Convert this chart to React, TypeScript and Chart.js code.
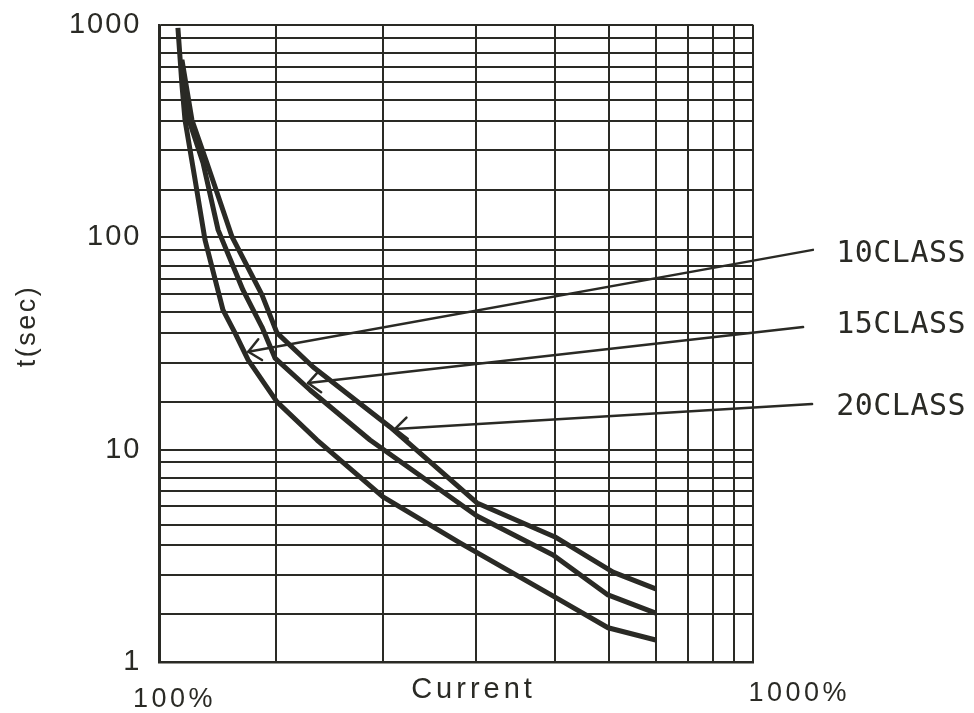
import { useEffect, useRef } from 'react';
import { Chart, registerables } from 'chart.js';

Chart.register(...registerables);

const INK = '#2a2a25';

// Current (%) gridlines as drawn on the reference (log scale 100%..1000%)
const currentGrid = [100, 156.9, 238.2, 341.1, 463.5, 571.4, 685, 777.1, 854.5, 929, 1000];
const currentLabels = ['100%', '1000%'];

// t (sec) gridlines as drawn on the reference (log scale 1..1000)
const timeGrid = [
  1, 1.675, 2.57, 3.55, 4.43, 5.41, 6.37, 7.36, 8.72,
  10, 16.75, 25.7, 35.5, 44.3, 54.1, 63.7, 73.6, 87.2,
  100, 167.5, 257, 355, 443, 541, 637, 736, 872,
  1000,
];
const timeLabels = [1, 10, 100, 1000];

// Trip curves
const class10X = [107.4, 109.1, 110.4, 114.8, 119.3, 127.9, 134.0, 141.0, 157.7, 184.2, 237.9, 320.6, 463.5, 569.2, 685];
const class10Y = [969, 522, 357, 186.4, 97.2, 45.5, 35.5, 26.5, 16.8, 11.1, 5.99, 3.64, 2.02, 1.45, 1.27];

const class15X = [108.7, 112.1, 118.4, 125.5, 138.2, 148.8, 156.5, 179.3, 226.2, 342.5, 460.0, 569.2, 685];
const class15Y = [685, 357, 224, 108.4, 56.5, 37.8, 27.0, 19.1, 11.1, 4.87, 3.19, 2.07, 1.70];

const class20X = [109.1, 113.4, 120.2, 132.5, 148.8, 157.7, 181.4, 244.5, 342.5, 463.5, 580.4, 685];
const class20Y = [685, 357, 224, 100.4, 53.6, 35.5, 24.5, 12.8, 5.61, 3.88, 2.65, 2.21];

// Callouts
const classLabels = ['10CLASS', '15CLASS', '20CLASS'];
const arrowTipX = [141.1, 177.9, 249.3];
const arrowTipY = [28.9, 20.6, 12.52];
const arrowTailX = [1260, 1213, 1256];
const arrowTailY = [87.3, 37.8, 16.4];
const labelX = 1379;
const labelY = [83.5, 38.7, 15.9];

const xTitle = 'Current';
const yTitle = 't(sec)';

function pts(xs: number[], ys: number[]) {
  return xs.map((x, i) => ({ x, y: ys[i] }));
}

const overlayPlugin = {
  id: 'overlay',
  beforeDraw(chart: any) {
    chart.ctx.letterSpacing = '2px';
  },
  afterDraw(chart: any) {
    const { ctx, chartArea } = chart;
    const xs = chart.scales.x;
    const ys = chart.scales.y;
    ctx.save();
    ctx.strokeStyle = INK;
    ctx.fillStyle = INK;
    ctx.lineCap = 'round';
    ctx.lineJoin = 'round';

    // callout arrows + labels
    for (let i = 0; i < classLabels.length; i++) {
      const tx = xs.getPixelForValue(arrowTipX[i]);
      const ty = ys.getPixelForValue(arrowTipY[i]);
      const ex = xs.getPixelForValue(arrowTailX[i]);
      const ey = ys.getPixelForValue(arrowTailY[i]);
      ctx.lineWidth = 2.5;
      ctx.beginPath();
      ctx.moveTo(ex, ey);
      ctx.lineTo(tx, ty);
      ctx.stroke();
      const ang = Math.atan2(ey - ty, ex - tx);
      const len = 16;
      const spread = 0.72;
      ctx.beginPath();
      ctx.moveTo(tx + len * Math.cos(ang - spread), ty + len * Math.sin(ang - spread));
      ctx.lineTo(tx, ty);
      ctx.lineTo(tx + len * Math.cos(ang + spread), ty + len * Math.sin(ang + spread));
      ctx.stroke();

      ctx.letterSpacing = '0.5px';
      ctx.font = '30px "DejaVu Sans Mono"';
      ctx.textAlign = 'left';
      ctx.textBaseline = 'middle';
      ctx.fillText(classLabels[i], xs.getPixelForValue(labelX), ys.getPixelForValue(labelY[i]));
    }

    // x tick labels
    ctx.font = '27px "Liberation Sans"';
    ctx.letterSpacing = '3.5px';
    ctx.textAlign = 'center';
    ctx.textBaseline = 'middle';
    ctx.fillText(currentLabels[0], xs.getPixelForValue(currentGrid[0]) + 15, chartArea.bottom + 38);
    ctx.fillText(currentLabels[1], xs.getPixelForValue(currentGrid[currentGrid.length - 1]) + 46, chartArea.bottom + 32);

    // x title
    ctx.font = '29px "Liberation Sans"';
    ctx.letterSpacing = '4px';
    ctx.fillText(xTitle, chartArea.left + 314, chartArea.bottom + 28);

    // y title
    ctx.font = '27px "Liberation Sans"';
    ctx.letterSpacing = '2.5px';
    ctx.translate(28, chartArea.top + 301);
    ctx.rotate(-Math.PI / 2);
    ctx.fillText(yTitle, 0, 0);
    ctx.restore();
  },
};

export default function App() {
  const ref = useRef<HTMLCanvasElement | null>(null);

  useEffect(() => {
    if (!ref.current) return;
    const lineStyle = {
      borderColor: INK,
      borderWidth: 5,
      pointRadius: 0,
      fill: false,
      tension: 0,
      borderJoinStyle: 'round' as const,
    };
    const chart = new Chart(ref.current, {
      type: 'line',
      data: {
        datasets: [
          { label: classLabels[0], data: pts(class10X, class10Y), ...lineStyle },
          { label: classLabels[1], data: pts(class15X, class15Y), ...lineStyle },
          { label: classLabels[2], data: pts(class20X, class20Y), ...lineStyle },
        ],
      },
      options: {
        responsive: false,
        animation: false,
        events: [],
        layout: { padding: { top: 25, right: 220.7, left: 0, bottom: 0 } },
        plugins: {
          legend: { display: false },
          tooltip: { enabled: false },
        },
        scales: {
          x: {
            type: 'logarithmic',
            min: 100,
            max: 1000,
            afterBuildTicks: (scale: any) => {
              scale.ticks = currentGrid.map((v) => ({ value: v }));
            },
            afterFit: (scale: any) => {
              scale.height = 51;
              scale.paddingLeft = 0;
              scale.paddingRight = 0;
            },
            ticks: { display: false },
            grid: { color: INK, lineWidth: 2, drawTicks: false },
            border: { display: true, color: INK, width: 2.5 },
          },
          y: {
            type: 'logarithmic',
            min: 1,
            max: 1000,
            afterBuildTicks: (scale: any) => {
              scale.ticks = timeGrid.map((v) => ({ value: v }));
            },
            afterFit: (scale: any) => {
              scale.width = 159.5;
              scale.paddingTop = 0;
              scale.paddingBottom = 0;
            },
            ticks: {
              autoSkip: false,
              padding: 18,
              color: INK,
              font: { family: '"Liberation Sans"', size: 29 },
              callback: (v: any) => (timeLabels.includes(Number(v)) ? String(v) : ''),
            },
            grid: { color: INK, lineWidth: 2, drawTicks: false },
            border: { display: true, color: INK, width: 2.5 },
          },
        },
      },
      plugins: [overlayPlugin],
    });
    return () => chart.destroy();
  }, []);

  return (
    <div style={{ position: 'absolute', left: 0, top: 0, width: 974, height: 713, background: '#fff' }}>
      <canvas ref={ref} width={974} height={713} style={{ display: 'block' }} />
    </div>
  );
}
